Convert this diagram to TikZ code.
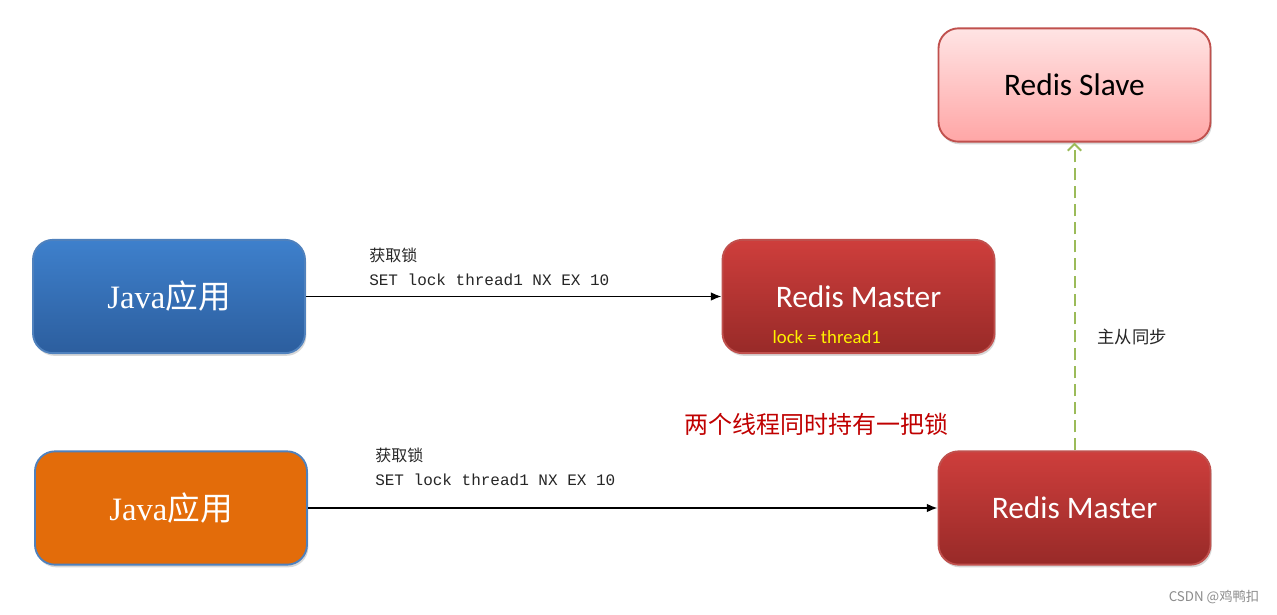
\documentclass[tikz,border=0pt]{standalone}
\usepackage{fontspec}
\setmainfont{Carlito}
\setmonofont{Liberation Mono}
\newfontfamily\cjk{Noto Sans CJK SC}
\newfontfamily\javaserif{Liberation Serif}
\usetikzlibrary{shadows,arrows.meta}
\definecolor{javaBlueTop}{RGB}{62,128,204}
\definecolor{javaBlueBot}{RGB}{44,94,158}
\definecolor{javaBorder}{RGB}{79,129,189}
\definecolor{javaOrange}{RGB}{227,108,10}
\definecolor{masterTop}{RGB}{206,62,60}
\definecolor{masterBot}{RGB}{152,42,40}
\definecolor{masterBorder}{RGB}{192,80,77}
\definecolor{slaveTop}{RGB}{255,228,228}
\definecolor{slaveBot}{RGB}{255,166,166}
\definecolor{syncGreen}{RGB}{155,187,89}
\definecolor{alertRed}{RGB}{192,0,0}
\tikzset{
  box/.style={rounded corners=15pt, minimum width=204pt, minimum height=85pt,
    line width=1.4pt, drop shadow={shadow xshift=1pt, shadow yshift=-2pt, opacity=0.3}},
  javabox/.style={box, draw=javaBorder, text=white,
    font=\fontsize{24.5}{28}\selectfont\javaserif},
  master/.style={box, draw=masterBorder, top color=masterTop, bottom color=masterBot,
    text=white, font=\fontsize{23.5}{27}\selectfont},
  slave/.style={box, draw=masterBorder, top color=slaveTop, bottom color=slaveBot,
    text=black, font=\fontsize{23.5}{27}\selectfont},
  cmd/.style={anchor=north west, align=left, inner sep=0pt, text=black!85,
    font=\fontsize{12}{18}\selectfont\ttfamily},
  flow/.style={-{Latex[length=8pt,width=6.5pt]}, line width=1.4pt},
  sync/.style={draw=syncGreen, line width=1.5pt, dash pattern=on 9pt off 4.5pt,
    -{Straight Barb[length=5pt,width=10pt,line width=1.5pt]}},
}
\begin{document}
\begin{tikzpicture}[x=0.75pt,y=-0.75pt]
  \useasboundingbox[fill=white] (0,0) rectangle (1277,614);
  \node[slave] (slave) at (1074.5,85) {Redis Slave};
  \node[javabox, top color=javaBlueTop, bottom color=javaBlueBot] (java1) at (169,296.5) {Java{\cjk 应用}};
  \node[master] (master1) at (858.5,296.5) {Redis Master};
  \node[javabox, fill=javaOrange] (java2) at (171,508) {Java{\cjk 应用}};
  \node[master] (master2) at (1074.5,508) {Redis Master};
  \node[text=yellow, font=\fontsize{14}{16}\selectfont, anchor=west] (lockval) at (768,337) {lock = thread1};
  \draw[flow] (java1) -- (master1);
  \draw[flow] (java2) -- (master2);
  \node[cmd] (cmd1) at (369,248) {{\cjk 获取锁}\\SET lock thread1 NX EX 10};
  \node[cmd] (cmd2) at (375,448) {{\cjk 获取锁}\\SET lock thread1 NX EX 10};
  \draw[sync] (master2.north) -- (slave.south);
  \node[font=\fontsize{13}{15}\selectfont\cjk, text=black!85] (synclabel) at (1132,337) {主从同步};
  \node[font=\fontsize{18}{20}\selectfont\cjk, text=alertRed] (alert) at (816,424) {两个线程同时持有一把锁};
  \node[font=\fontsize{10}{12}\selectfont\cjk, text=black!45, anchor=east] (mark) at (1264,597) {CSDN @鸡鸭扣};
\end{tikzpicture}
\end{document}
